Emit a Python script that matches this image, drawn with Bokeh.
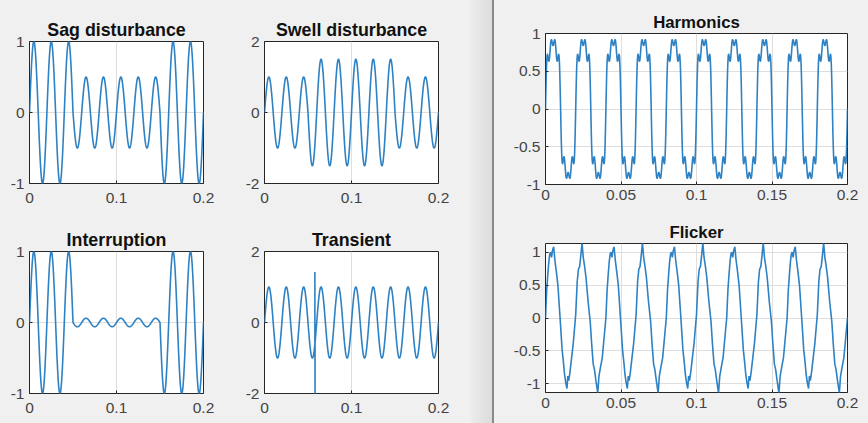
import numpy as np
from bokeh.plotting import figure
from bokeh.layouts import row, column
from bokeh.models import Div
from bokeh.embed import file_html
from bokeh.resources import INLINE

# ---------------- data ----------------
FUNDAMENTAL_HZ = 50          # 10 cycles in 0.2 s
DURATION = 0.2
HALF_CYCLE = 0.01

# peak value of each half-cycle (20 half-cycles)
sag_peaks = [1, -1, 1, -1, 1,
             -0.5, 0.5, -0.5, 0.5, -0.5, 0.5, -0.5, 0.5, -0.5, 0.5,
             -1, 1, -1, 1, -1]
swell_peaks = [1, -1, 1, -1, 1,
               -1.5, 1.5, -1.5, 1.5, -1.5, 1.5, -1.5, 1.5, -1.5, 1.5,
               -1, 1, -1, 1, -1]
interruption_peaks = [1, -1, 1, -1, 1,
                      -0.06, 0.06, -0.06, 0.06, -0.06, 0.06, -0.06, 0.06, -0.06, 0.06,
                      -1, 1, -1, 1, -1]
transient_peaks = [1, -1, 1, -1, 1, -1, 1, -1, 1, -1,
                   1, -1, 1, -1, 1, -1, 1, -1, 1, -1]
transient_spike_t = [0.0579, 0.0581]
transient_spike_v = [1.42, -2.35]

harmonic_orders = [1, 3, 5, 7]
harmonic_amps = [1.0, 0.18, 0.14, 0.12]

# two-cycle pattern of the flicker trace (repeats every 0.04 s), time in ms
flicker_pattern_ms = [0.0, 0.8, 1.6, 2.2, 2.8, 3.4, 4.0, 4.6, 5.4, 6.2, 7.2, 8.2,
                      9.6, 11.0, 11.8, 12.6, 13.4, 14.2, 14.8, 15.4, 16.2, 17.2, 18.4,
                      20.0, 21.0, 21.8, 22.6, 23.4, 24.2, 25.0, 25.8, 26.8, 28.2,
                      29.6, 30.6, 31.6, 32.4, 33.4, 34.6, 35.4, 36.4, 37.6, 38.8]
flicker_pattern_v = [0.00, 0.42, 0.68, 0.85, 0.97, 1.00, 0.92, 1.02, 1.08, 0.88, 0.70, 0.50,
                     0.02, -0.48, -0.65, -0.85, -0.98, -1.07, -0.88, -0.95, -0.82, -0.62, -0.38,
                     0.05, 0.55, 0.74, 0.78, 0.95, 1.14, 0.92, 0.80, 0.62, 0.25,
                     -0.05, -0.40, -0.70, -0.78, -0.95, -1.14, -0.88, -0.75, -0.60, -0.30]
FLICKER_PATTERN_MS = 40.0

left_xticks = [0, 0.1, 0.2]
left_xlabels = ["0", "0.1", "0.2"]
right_xticks = [0, 0.05, 0.1, 0.15, 0.2]
right_xlabels = ["0", "0.05", "0.1", "0.15", "0.2"]
unit_yticks = [-1, 0, 1]
unit_ylabels = ["-1", "0", "1"]
double_yticks = [-2, 0, 2]
double_ylabels = ["-2", "0", "2"]
half_yticks = [-1, -0.5, 0, 0.5, 1]
half_ylabels = ["-1", "-0.5", "0", "0.5", "1"]

# ---------------- waveform assembly ----------------
t = np.linspace(0, DURATION, 4001)


def from_half_peaks(peaks):
    idx = np.minimum((t / HALF_CYCLE + 1e-9).astype(int), len(peaks) - 1)
    return np.asarray(peaks)[idx] * np.abs(np.sin(2 * np.pi * FUNDAMENTAL_HZ * t))


sag_y = from_half_peaks(sag_peaks)
swell_y = from_half_peaks(swell_peaks)
interr_y = from_half_peaks(interruption_peaks)

tr_t = np.concatenate([t, transient_spike_t])
tr_y = np.concatenate([from_half_peaks(transient_peaks), transient_spike_v])
order = np.argsort(tr_t, kind="stable")
tr_t, tr_y = tr_t[order], tr_y[order]

harm_y = np.zeros_like(t)
for n, a in zip(harmonic_orders, harmonic_amps):
    harm_y += a * np.sin(2 * np.pi * n * FUNDAMENTAL_HZ * t)

reps = int(round(DURATION * 1000 / FLICKER_PATTERN_MS))
fl_t = np.concatenate([(np.asarray(flicker_pattern_ms) + k * FLICKER_PATTERN_MS) / 1000.0
                       for k in range(reps)] + [[DURATION]])
fl_y = np.concatenate([np.asarray(flicker_pattern_v) for _ in range(reps)]
                      + [[flicker_pattern_v[0]]])

# ---------------- styling ----------------
BG = "#f0f0f0"
LINE = "#2e82c4"
FONT = "Liberation Sans"


def panel(title, width, height, borders, y_range, xticks, xlabels, yticks, ylabels,
          title_size, x_standoff):
    bl, br, bt, bb = borders
    p = figure(width=width, height=height, x_range=(0, DURATION), y_range=y_range,
               title=title, output_backend="svg", toolbar_location=None,
               min_border_left=bl, min_border_right=br,
               min_border_top=bt, min_border_bottom=bb,
               background_fill_color="white", border_fill_color=BG,
               outline_line_color="#262626", outline_line_width=1,
               styles={"background-color": BG})
    p.title.align = "center"
    p.title.text_font = FONT
    p.title.text_font_size = title_size
    p.title.text_font_style = "bold"
    p.title.text_color = "#111111"
    p.title.standoff = 3
    p.title.vertical_align = "bottom"

    p.xaxis.ticker = xticks
    p.xaxis.major_label_overrides = {k: v for k, v in zip(xticks, xlabels)}
    p.yaxis.ticker = yticks
    p.yaxis.major_label_overrides = {k: v for k, v in zip(yticks, ylabels)}
    for ax in (p.xaxis[0], p.yaxis[0]):
        ax.axis_line_color = None
        ax.major_tick_in = 3
        ax.major_tick_out = 0
        ax.major_tick_line_color = "#262626"
        ax.minor_tick_line_color = None
        ax.major_label_text_font = FONT
        ax.major_label_text_font_size = "15.5px"
        ax.major_label_text_color = "#444444"
    p.xaxis.major_label_standoff = x_standoff
    p.yaxis.major_label_standoff = 5

    p.xgrid.ticker = xticks
    p.ygrid.ticker = yticks
    p.xgrid.grid_line_color = "#dedede"
    p.ygrid.grid_line_color = "#dedede"
    return p


sag = panel("Sag disturbance", 235, 210, (29, 32, 41, 27), (-1, 1),
            left_xticks, left_xlabels, unit_yticks, unit_ylabels, "17.8px", 9)
sag.line(t, sag_y, line_color=LINE, line_width=1.6)

swell = panel("Swell disturbance", 235, 210, (29, 32, 41, 27), (-2, 2),
              left_xticks, left_xlabels, double_yticks, double_ylabels, "17.8px", 9)
swell.line(t, swell_y, line_color=LINE, line_width=1.6)

interr = panel("Interruption", 235, 213, (29, 32, 41, 30), (-1, 1),
               left_xticks, left_xlabels, unit_yticks, unit_ylabels, "17.8px", 9)
interr.line(t, interr_y, line_color=LINE, line_width=1.6)

trans = panel("Transient", 235, 213, (29, 32, 41, 30), (-2, 2),
              left_xticks, left_xlabels, double_yticks, double_ylabels, "17.8px", 9)
trans.line(tr_t, tr_y, line_color=LINE, line_width=1.6)

harm = panel("Harmonics", 373, 210, (49, 21, 33, 26), (-1, 1),
             right_xticks, right_xlabels, half_yticks, half_ylabels, "16.8px", 5)
harm.line(t, harm_y, line_color=LINE, line_width=1.6)

flick = panel("Flicker", 373, 213, (50, 21, 33, 31), (-1.13, 1.13),
              right_xticks, right_xlabels, half_yticks, half_ylabels, "16.8px", 5)
flick.line(fl_t, fl_y, line_color=LINE, line_width=1.6)

strip = Div(text="", width=25, height=423, margin=(0, 0, 0, 0),
            styles={"background": "linear-gradient(to right, #ededed 0%, #dcdcdc 86%, "
                                  "#8a8a8a 88%, #8a8a8a 95%, #f2f2f2 96%, #f0f0f0 100%)"})

left = column(row(sag, swell, styles={"background-color": BG}),
              row(interr, trans, styles={"background-color": BG}),
              styles={"background-color": BG})
right = column(harm, flick, styles={"background-color": BG})
layout = row(left, strip, right, styles={"background-color": BG})

open("out.html", "w").write(file_html(layout, INLINE))
